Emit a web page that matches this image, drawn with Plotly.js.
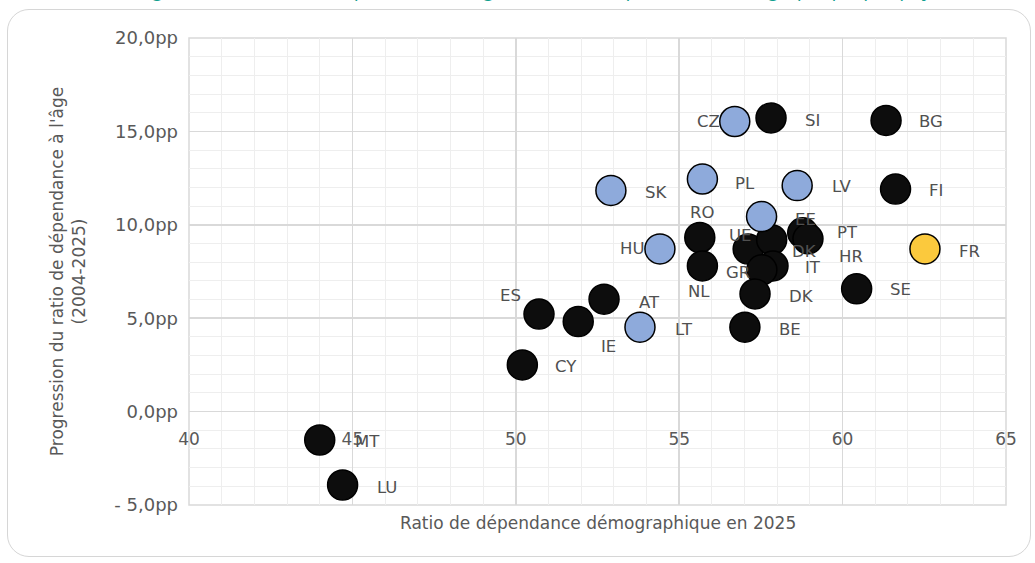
<!DOCTYPE html>
<html>
<head>
<meta charset="utf-8">
<script src="https://cdn.plot.ly/plotly-3.0.1.min.js"></script>
<style>
  html, body { margin: 0; padding: 0; background: #ffffff; }
  #wrap { position: relative; width: 1035px; height: 563px; overflow: hidden; }
  #chart { position: absolute; left: 0; top: 0; width: 1035px; height: 563px; }
  #frame { position: absolute; left: 7px; top: 9px; right: 4px; bottom: 6px;
           border: 1.5px solid #d6d6d6; border-radius: 22px; pointer-events: none; }
</style>
</head>
<body>
<div id="wrap">
  <div id="chart"></div>
  <div id="frame"></div>
</div>
<script>
// ---- data ----
const labels = ['CZ','SI','BG','SK','PL','LV','FI','EE','RO','HU','UE','DK','PT','HR',
                'IT','GR','NL','DK','SE','FR','ES','IE','AT','LT','CY','BE','MT','LU'];
const ratio2025 = [56.70, 57.81, 61.33, 52.91, 55.71, 58.61, 61.62, 57.52, 55.63, 54.41, 57.11, 57.83, 58.78, 58.94,
                   57.87, 57.53, 55.71, 57.32, 60.43, 62.52, 50.71, 51.91, 52.70, 53.80, 50.20, 57.01, 44.00, 44.70];
const progression = [15.53, 15.72, 15.59, 11.84, 12.45, 12.10, 11.91, 10.44, 9.32, 8.71, 8.70, 9.20, 9.57, 9.25,
                     7.80, 7.59, 7.80, 6.30, 6.57, 8.71, 5.22, 4.82, 6.02, 4.52, 2.50, 4.52, -1.52, -3.93];
const groups = ['blue','black','black','blue','blue','blue','black','blue','black','blue','black','black','black','black',
                'black','black','black','black','black','yellow','black','black','black','blue','black','black','black','black'];
const yTickVals = [-5, 0, 5, 10, 15, 20];
const yTickText = ['- 5,0pp', '0,0pp', '5,0pp', '10,0pp', '15,0pp', '20,0pp'];
const xTickVals = [40, 45, 50, 55, 60, 65];

// ---- styles ----
const FONT = 'DejaVu Sans, Open Sans, sans-serif';
const groupColors = { black: '#0d0d0d', blue: '#8eaadb', yellow: '#fbc93d' };
const groupOrder = ['black', 'blue', 'yellow'];
// label placement per point: [xanchor, xshift px, yshift px]
const labelPlacement = [
  ['right',-13,0], ['left',32,-3], ['left',31,-1], ['left',32,-2], ['left',31,-4], ['left',33,-1], ['left',31,-1],
  ['left',31,-3], ['center',2,25], ['right',-14,0], ['left',-21,14], ['left',18,-12], ['left',32,0], ['left',29,-18],
  ['left',30,-2], ['left',-38,-3], ['center',-3,-26], ['left',32,-3], ['left',31,-1], ['left',32,-3], ['center',-29,19],
  ['center',30,-25], ['left',33,-3], ['left',33,-2], ['left',31,-2], ['left',32,-2], ['left',33,-2], ['left',32,-2]
];

const traces = groupOrder.map(g => {
  const idx = labels.map((_, i) => i).filter(i => groups[i] === g);
  return {
    type: 'scatter', mode: 'markers',
    x: idx.map(i => ratio2025[i]),
    y: idx.map(i => progression[i]),
    text: idx.map(i => labels[i]),
    hoverinfo: 'text',
    marker: { size: 30, color: groupColors[g], line: { color: '#000000', width: 1.5 } },
    showlegend: false
  };
});

const annotations = labels.map((lab, i) => ({
  x: ratio2025[i], y: progression[i], xref: 'x', yref: 'y',
  text: lab, showarrow: false,
  xanchor: labelPlacement[i][0], yanchor: 'middle',
  xshift: labelPlacement[i][1], yshift: labelPlacement[i][2],
  font: { family: FONT, size: 16.5, color: '#505050' }
}));

annotations.push({
  xref: 'paper', yref: 'paper', x: 0.5, y: -0.0386, xanchor: 'center', yanchor: 'middle',
  text: 'Ratio de dépendance démographique en 2025', showarrow: false,
  font: { family: FONT, size: 17, color: '#595959' }
});
annotations.push({
  xref: 'paper', yref: 'paper', x: -0.1485, y: 0.5, xanchor: 'center', yanchor: 'middle',
  textangle: -90,
  text: "Progression du ratio de dépendance à l'âge<br>(2004-2025)", showarrow: false,
  font: { family: FONT, size: 17, color: '#595959' }
});
annotations.push({
  xref: 'paper', yref: 'paper', x: 0.42, y: 1.072, xanchor: 'center', yanchor: 'bottom',
  text: '<i>Progression du ratio de dépendance à l\'âge et ratio de dépendance démographique par pays</i>',
  showarrow: false,
  font: { family: 'Open Sans, sans-serif', size: 20, color: '#12a08f' }
});

const layout = {
  width: 1035, height: 563,
  margin: { l: 189, r: 29, t: 38, b: 58, pad: 0 },
  paper_bgcolor: '#ffffff', plot_bgcolor: '#ffffff',
  showlegend: false,
  xaxis: {
    range: [40, 65], tickvals: xTickVals, ticktext: xTickVals.map(String),
    anchor: 'free', position: 0.2,
    showgrid: true, gridcolor: '#d9d9d9', gridwidth: 1.5,
    minor: { dtick: 1, tick0: 40, showgrid: true, gridcolor: '#eeeeee', gridwidth: 1 },
    zeroline: false, showline: false, ticks: '', ticklabelstandoff: 15,
    tickfont: { family: FONT, size: 17, color: '#595959' }
  },
  yaxis: {
    range: [-5, 20], tickvals: yTickVals, ticktext: yTickText,
    showgrid: true, gridcolor: '#d9d9d9', gridwidth: 1.5,
    minor: { dtick: 1, tick0: -5, showgrid: true, gridcolor: '#eeeeee', gridwidth: 1 },
    zeroline: false, showline: false, ticks: '', ticklabelstandoff: 10,
    tickfont: { family: FONT, size: 18, color: '#595959' }
  },
  shapes: [{
    type: 'rect', xref: 'paper', yref: 'paper', x0: 0, x1: 1, y0: 0, y1: 1,
    line: { color: '#d9d9d9', width: 1.5 }, layer: 'below'
  }],
  annotations: annotations
};

Plotly.newPlot('chart', traces, layout, { displayModeBar: false, staticPlot: true });
</script>
</body>
</html>
